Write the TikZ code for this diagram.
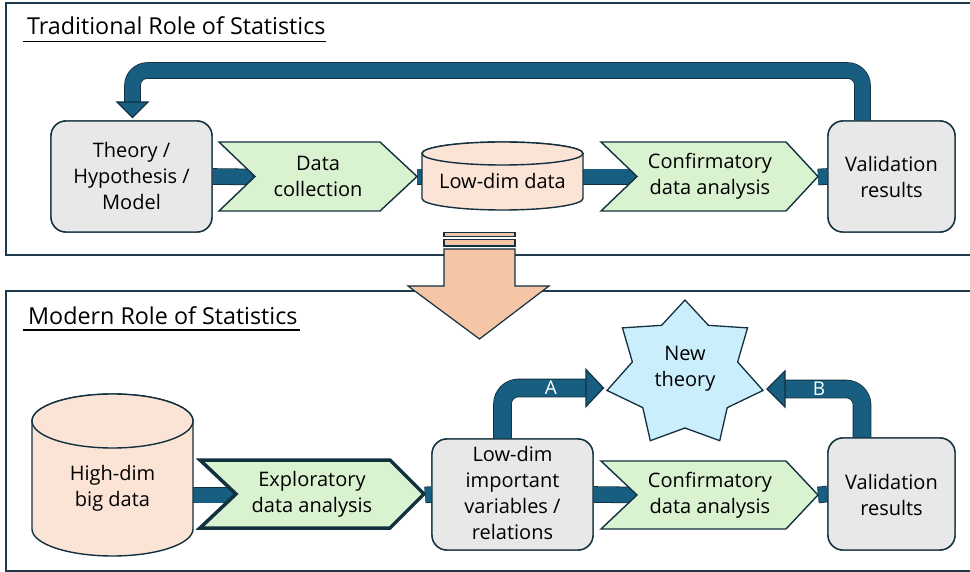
\documentclass[tikz,border=0pt]{standalone}
\usepackage{fontspec}
\setmainfont{Open Sans}
\usetikzlibrary{calc}
\definecolor{edge}{HTML}{13303F}
\definecolor{framec}{HTML}{1F3A4B}
\definecolor{barc}{HTML}{175E80}
\definecolor{boxg}{HTML}{E8E8E8}
\definecolor{chev}{HTML}{D9F2D0}
\definecolor{cyl}{HTML}{FBE3D6}
\definecolor{peach}{HTML}{F5C6A6}
\definecolor{starc}{HTML}{CAEEFB}
\tikzset{
  body/.style={font=\fontsize{20}{26}\selectfont, text=black, align=center},
  rbox/.style={draw=edge, line width=1.4pt, fill=boxg, rounded corners=15pt, inner sep=0pt},
  chevsty/.style={draw=edge, line width=1.4pt, fill=chev},
  cylsty/.style={draw=edge, line width=1.4pt, fill=cyl},
  framesty/.style={draw=framec, line width=1.5pt},
  thick bar/.style={draw=barc, line width=15pt, preaction={draw=edge, line width=16.6pt}},
  headsty/.style={fill=barc, draw=edge, line width=1.2pt, line join=miter},
  title/.style={font=\fontsize{23.3}{28}\selectfont, anchor=base west, inner sep=0pt},
  lbl/.style={font=\fontsize{19}{20}\selectfont, text=white, inner sep=0pt}
}
\begin{document}
\begin{tikzpicture}[x=1pt,y=-1pt]
\useasboundingbox (0,0) rectangle (970,572);
\clip (0,0) rectangle (970,572);
\fill[white] (0,0) rectangle (970,572);

% frames
\draw[framesty] (6,3) rectangle (990,255);
\draw[framesty] (6,291) rectangle (990,571);

% titles
\node[title] (t1) at (27,35) {Traditional Role of Statistics};
\draw[line width=1.3pt] (23,41.5) -- (326,41.5);
\node[title] (t2) at (28,324) {Modern Role of Statistics};
\draw[line width=1.3pt] (23,330) -- (300,330);

% ---------- top row nodes (positions) ----------
\node[rbox, minimum width=161pt, minimum height=111pt] (theory) at (131.5,176.5) {};
\node[rbox, minimum width=127pt, minimum height=111pt] (val1) at (891.5,176.5) {};
\coordinate (dcL) at (255,177);  \coordinate (dcR) at (417,177);
\coordinate (ldL) at (422,177);  \coordinate (ldR) at (583,177);
\coordinate (cf1L) at (637,177); \coordinate (cf1R) at (818,177);

% connector bars top row
\draw[thick bar] (theory.east) -- (dcL);
\draw[thick bar] (dcR) -- (ldL);
\draw[thick bar] (ldR) -- (cf1L);
\draw[thick bar] (cf1R) -- (val1.west);

% feedback arrow
\coordinate (fbS) at (val1.north -| 862.5,0);
\coordinate (fbE) at (132.5,102);
\draw[thick bar, rounded corners=15pt] (fbS) -- (862.5,70.5) -- (132.5,70.5) -- (fbE);
\draw[headsty] (117,102) -- (148,102) -- (132.5,117.5) -- cycle;

% redraw boxes on top
\node[rbox, minimum width=161pt, minimum height=111pt] at (theory) {};
\node[body] at (131.5,176) {Theory /\\Hypothesis /\\Model};
\node[rbox, minimum width=127pt, minimum height=111pt] at (val1) {};
\node[body] (val1t) at (891.5,177) {Validation\\results};

% data collection chevron
\draw[chevsty] (219,142) -- (380,142) -- (417,176.5) -- (380,211) -- (219,211) -- (255,176.5) -- cycle;
\node[body] (dc) at (318,176) {Data\\collection};

% low-dim data cylinder
\draw[cylsty] (422,153.5) -- (422,198.5) arc[start angle=180, end angle=360, x radius=80.5pt, y radius=11.5pt] -- (583,153.5) arc[start angle=0, end angle=180, x radius=80.5pt, y radius=11.5pt] -- cycle;
\draw[cylsty] (502.5,153.5) ellipse[x radius=80.5pt, y radius=11.5pt];
\node[body] (ld) at (502.5,181) {Low-dim data};

% confirmatory chevron top
\draw[chevsty] (601,142) -- (786,142) -- (818,176.5) -- (786,211) -- (601,211) -- (637,176.5) -- cycle;
\node[body] (cf1) at (710,176) {Confirmatory\\data analysis};

% ---------- big down arrow ----------
\draw[draw=edge, line width=1.2pt, fill=peach] (444,232.5) rectangle (515,236.5);
\draw[draw=edge, line width=1.2pt, fill=peach] (444,239.5) rectangle (515,246);
\draw[draw=edge, line width=1.2pt, fill=peach, line join=miter] (444,249) -- (444,286) -- (408,286) -- (479.5,339) -- (549,286) -- (515,286) -- (515,249) -- cycle;

% ---------- bottom row ----------
\node[rbox, minimum width=161pt, minimum height=111pt] (low) at (512.5,494.5) {};
\node[rbox, minimum width=127pt, minimum height=112pt] (val2) at (891.5,494) {};
\coordinate (hdR) at (193,495);
\coordinate (exL) at (237,495); \coordinate (exR) at (425,495);
\coordinate (cf2L) at (637,495); \coordinate (cf2R) at (818,495);

\draw[thick bar] (hdR) -- (exL);
\draw[thick bar] (exR) -- (low.west);
\draw[thick bar] (low.east) -- (cf2L);
\draw[thick bar] (cf2R) -- (val2.west);

% star
\coordinate (star) at (685,374);
\draw[draw=edge, line width=1.3pt, fill=starc, line join=miter] (star)
  +(90:80pt and 74pt) -- +(115.71:54pt) -- +(141.43:80pt and 74pt) -- +(167.14:54pt)
  -- +(192.86:80pt and 74pt) -- +(218.57:54pt) -- +(244.29:80pt and 74pt) -- +(270:54pt)
  -- +(295.71:80pt and 74pt) -- +(321.43:54pt) -- +(347.14:80pt and 74pt) -- +(12.86:54pt)
  -- +(38.57:80pt and 74pt) -- +(64.29:54pt) -- cycle;
\node[body] (newt) at (685,369) {New\\theory};

% A and B arrows
\coordinate (aS) at (low.north -| 502.5,0);
\draw[thick bar, line width=17pt, preaction={draw=edge, line width=18.6pt}, rounded corners=16pt] (aS) -- (502.5,388) -- (586,388);
\draw[headsty] (586,369.5) -- (603.5,388) -- (586,406.5) -- cycle;
\node[lbl] (la) at (551,388) {A};

\coordinate (bS) at (val2.north -| 862,0);
\draw[thick bar, line width=17pt, preaction={draw=edge, line width=18.6pt}, rounded corners=16pt] (bS) -- (862,389) -- (785,389);
\draw[headsty] (785,371) -- (767,389) -- (785,407) -- cycle;
\node[lbl] (lb) at (819,389) {B};

% boxes on top
\node[rbox, minimum width=161pt, minimum height=111pt] at (low) {};
\node[body] at (512.5,493) {Low-dim\\important\\variables /\\relations};
\node[rbox, minimum width=127pt, minimum height=112pt] at (val2) {};
\node[body] (val2t) at (891.5,495) {Validation\\results};

% high-dim cylinder
\draw[cylsty] (32,421) -- (32,529) arc[start angle=180, end angle=360, x radius=80.5pt, y radius=27pt] -- (193,421) arc[start angle=0, end angle=180, x radius=80.5pt, y radius=27pt] -- cycle;
\draw[cylsty] (112.5,421) ellipse[x radius=80.5pt, y radius=27pt];
\node[body] (hd) at (112.5,488) {High-dim\\big data};

% exploratory chevron
\draw[draw=edge, line width=3.5pt, fill=chev, line join=miter] (200,460) -- (390,460) -- (424,494) -- (390,528) -- (200,528) -- (236,494) -- cycle;
\node[body] (ex) at (312,494) {Exploratory\\data analysis};

% confirmatory chevron bottom
\draw[chevsty] (601,461) -- (786,461) -- (818,495) -- (786,529) -- (601,529) -- (637,495) -- cycle;
\node[body] (cf2) at (710,495) {Confirmatory\\data analysis};
\end{tikzpicture}
\end{document}
